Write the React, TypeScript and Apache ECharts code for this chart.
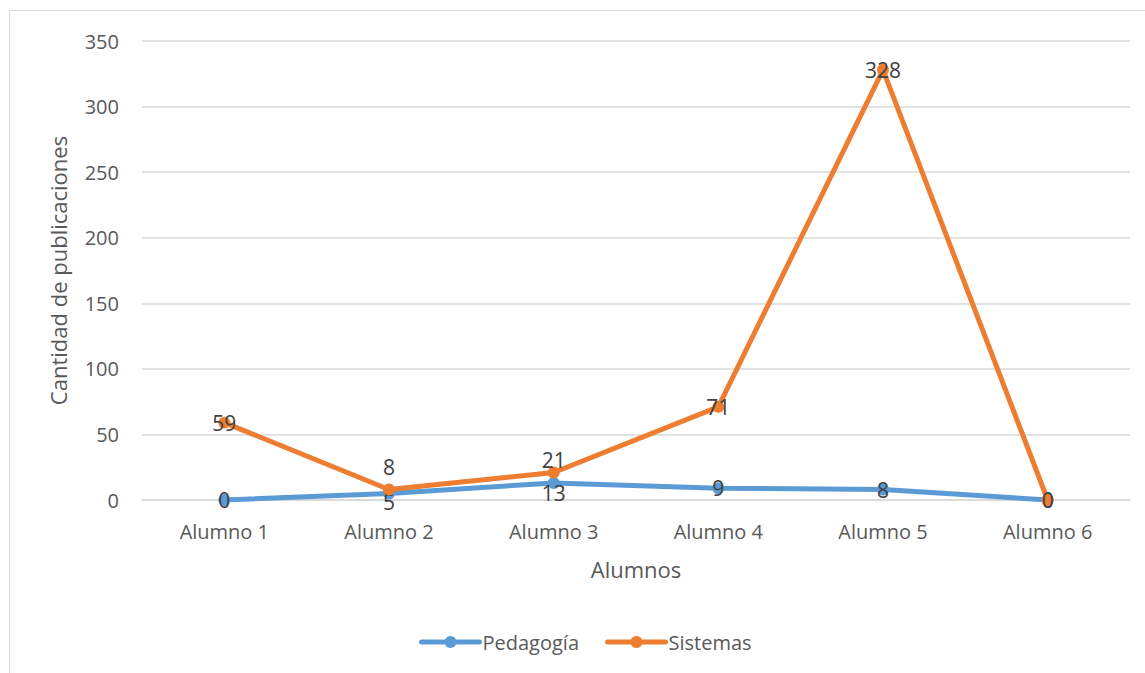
import React, { useEffect, useRef } from "react";
import * as echarts from "echarts";

const categories = ["Alumno 1", "Alumno 2", "Alumno 3", "Alumno 4", "Alumno 5", "Alumno 6"];
const pedagogia = [0, 5, 13, 9, 8, 0];
const sistemas = [59, 8, 21, 71, 328, 0];
const yTicks = { min: 0, max: 350, interval: 50 };

// label vertical offsets (px) per point, mimicking the reference placement
const pedOffsets = [0, 9, 10, 0, 0, 0];
const sisOffsets = [0, -23, -12, 0, 0, 0];

const FONT = "'Open Sans', 'Noto Sans', sans-serif";

export default function App() {
  const ref = useRef<HTMLDivElement>(null);
  useEffect(() => {
    document.body.style.margin = "0";
    if (!ref.current) return;
    const chart = echarts.init(ref.current, null, { renderer: "svg" });
    const mk = (vals: number[], offs: number[]) =>
      vals.map((v, i) => ({
        value: v,
        label: { position: "inside", offset: [0, offs[i]] },
      }));
    chart.setOption({
      animation: false,
      backgroundColor: "#ffffff",
      textStyle: { fontFamily: FONT },
      graphic: [
        {
          type: "rect",
          shape: { x: 9.5, y: 10.5, width: 1200, height: 700 },
          style: { fill: "none", stroke: "#d9d9d9", lineWidth: 1 },
          silent: true,
        },
      ],
      grid: { left: 142, right: 15, top: 41, bottom: 173, containLabel: false },
      legend: {
        top: 627,
        left: 414,
        itemWidth: 58,
        itemHeight: 15,
        itemGap: 26,
        lineStyle: { width: 5, cap: "round" },
        textStyle: { color: "#595959", fontSize: 20, fontFamily: FONT, padding: [0, 0, 0, -2] },
        data: ["Pedagogía", "Sistemas"],
      },
      xAxis: {
        type: "category",
        data: categories,
        boundaryGap: true,
        name: "Alumnos",
        nameLocation: "middle",
        nameGap: 58,
        nameTextStyle: { color: "#595959", fontSize: 22, fontFamily: FONT },
        axisLine: { lineStyle: { color: "#d9d9d9", width: 1.5 } },
        axisTick: { show: false },
        axisLabel: { color: "#595959", fontSize: 20, margin: 20, lineHeight: 22, fontFamily: FONT },
      },
      yAxis: {
        type: "value",
        min: yTicks.min,
        max: yTicks.max,
        interval: yTicks.interval,
        name: "Cantidad de publicaciones",
        nameLocation: "middle",
        nameGap: 73,
        nameTextStyle: { color: "#595959", fontSize: 22, fontFamily: FONT },
        axisLine: { show: false },
        axisTick: { show: false },
        axisLabel: { color: "#595959", fontSize: 20, margin: 23, fontFamily: FONT },
        splitLine: { lineStyle: { color: "#d9d9d9", width: 1.5 } },
      },
      series: [
        {
          name: "Pedagogía",
          type: "line",
          data: mk(pedagogia, pedOffsets),
          color: "#5b9bd5",
          symbol: "circle",
          symbolSize: 12,
          lineStyle: { width: 5, color: "#5b9bd5" },
          itemStyle: { color: "#5b9bd5" },
          label: { show: true, color: "#404040", fontSize: 21, lineHeight: 22, fontFamily: FONT },
          z: 2,
        },
        {
          name: "Sistemas",
          type: "line",
          data: mk(sistemas, sisOffsets),
          color: "#ed7d31",
          symbol: "circle",
          symbolSize: 12,
          lineStyle: { width: 5, color: "#ed7d31" },
          itemStyle: { color: "#ed7d31" },
          label: { show: true, color: "#404040", fontSize: 21, lineHeight: 22, fontFamily: FONT },
          z: 3,
        },
      ],
    });
    return () => chart.dispose();
  }, []);
  return <div ref={ref} style={{ width: 1145, height: 673 }} />;
}
